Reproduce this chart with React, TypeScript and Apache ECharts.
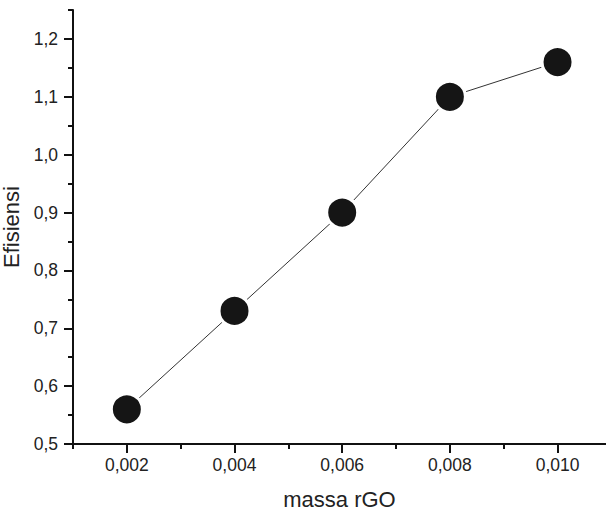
import React, { useEffect, useRef } from "react";
import * as echarts from "echarts";

const xValues = [0.002, 0.004, 0.006, 0.008, 0.01];
const yValues = [0.56, 0.73, 0.9, 1.1, 1.16];
const xMajorTicks = [0.002, 0.004, 0.006, 0.008, 0.01];
const xMinorTicks = [0.001, 0.003, 0.005, 0.007, 0.009];
const yMajorTicks = [0.5, 0.6, 0.7, 0.8, 0.9, 1.0, 1.1, 1.2];
const yMinorTicks = [0.55, 0.65, 0.75, 0.85, 0.95, 1.05, 1.15, 1.25];
const xTitle = "massa rGO";
const yTitle = "Efisiensi";

const FONT = "'Liberation Sans', Arial, sans-serif";
const AXIS_COLOR = "#111";
const TEXT_COLOR = "#222";

export default function App() {
  const ref = useRef<HTMLDivElement>(null);
  useEffect(() => {
    if (!ref.current) return;
    const chart = echarts.init(ref.current, undefined, { renderer: "svg" });
    const xMin = 0.001;
    const xMax = 0.0109;
    const yMin = 0.5;
    const yMax = 1.25;
    const tickStyle = { color: AXIS_COLOR, width: 2, opacity: 1 };
    chart.setOption({
      animation: false,
      backgroundColor: "#fff",
      grid: {
        left: 73,
        right: 0,
        top: 10,
        bottom: 67,
        containLabel: false,
        outerBoundsMode: "none",
      },
      xAxis: [
        {
          type: "value",
          min: xMin,
          max: xMax,
          position: "bottom",
          name: xTitle,
          nameLocation: "middle",
          nameGap: 43,
          nameTextStyle: { fontFamily: FONT, fontSize: 22, lineHeight: 24, color: TEXT_COLOR },
          axisLine: { show: true, onZero: false, lineStyle: { color: AXIS_COLOR, width: 2 } },
          axisTick: {
            show: true,
            inside: false,
            length: 9,
            customValues: xMajorTicks,
            lineStyle: tickStyle,
          },
          axisLabel: {
            show: true,
            customValues: xMajorTicks,
            margin: 12,
            fontFamily: FONT,
            fontSize: 17.5,
            color: TEXT_COLOR,
            formatter: (v: number) => v.toFixed(3).replace(".", ","),
          },
          splitLine: { show: false },
        },
        {
          type: "value",
          min: xMin,
          max: xMax,
          position: "bottom",
          axisLine: { show: false, onZero: false },
          axisTick: {
            show: true,
            inside: false,
            length: 5,
            customValues: xMinorTicks,
            lineStyle: tickStyle,
          },
          axisLabel: { show: false },
          splitLine: { show: false },
        },
      ],
      yAxis: [
        {
          type: "value",
          min: yMin,
          max: yMax,
          position: "left",
          name: yTitle,
          nameLocation: "middle",
          nameGap: 40,
          nameTextStyle: { fontFamily: FONT, fontSize: 22, color: TEXT_COLOR },
          axisLine: { show: true, onZero: false, lineStyle: { color: AXIS_COLOR, width: 2 } },
          axisTick: {
            show: true,
            inside: false,
            length: 9,
            customValues: yMajorTicks,
            lineStyle: tickStyle,
          },
          axisLabel: {
            show: true,
            customValues: yMajorTicks,
            margin: 15,
            fontFamily: FONT,
            fontSize: 17.5,
            color: TEXT_COLOR,
            formatter: (v: number) => v.toFixed(1).replace(".", ","),
          },
          splitLine: { show: false },
        },
        {
          type: "value",
          min: yMin,
          max: yMax,
          position: "left",
          axisLine: { show: false, onZero: false },
          axisTick: {
            show: true,
            inside: false,
            length: 5,
            customValues: yMinorTicks,
            lineStyle: tickStyle,
          },
          axisLabel: { show: false },
          splitLine: { show: false },
        },
      ],
      series: [
        {
          type: "line",
          xAxisIndex: 0,
          yAxisIndex: 0,
          data: xValues.map((x, i) => [x, yValues[i]]),
          symbol: "circle",
          symbolSize: 31,
          lineStyle: { color: "#333", width: 1 },
          itemStyle: { color: "#151515", borderColor: "#fff", borderWidth: 3 },
          z: 5,
        },
      ],
    });
    return () => chart.dispose();
  }, []);
  return (
    <div
      ref={ref}
      style={{ position: "absolute", left: 0, top: 0, width: 606, height: 511 }}
    />
  );
}
